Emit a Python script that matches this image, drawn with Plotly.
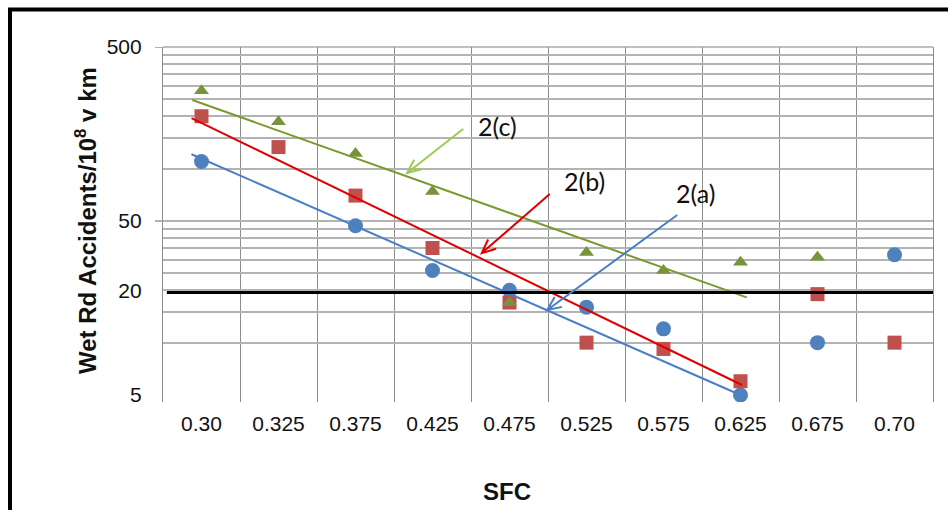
import math
import plotly.graph_objects as go

# SFC categories (x axis) and wet-road accident rates per 10^8 vehicle-km
sfc_labels = ["0.30", "0.325", "0.375", "0.425", "0.475", "0.525", "0.575", "0.625", "0.675", "0.70"]
series_a = [110, None, 47, 26, 20, 16, 12, 5.0, 10, 32]       # blue circles
series_b = [200, 133, 70, 35, 17, 10, 9.2, 6.0, 19, 10]        # red squares
series_c = [280, 186, 122, 74, 17, 33, 26, 29, 31, None]       # green triangles

# exponential trend lines (start/end category index and value)
trend_a_x = [-0.13, 6.97]
trend_a_y = [121, 5.07]
trend_b_x = [-0.13, 7.02]
trend_b_y = [195, 5.71]
trend_c_x = [-0.12, 7.08]
trend_c_y = [248, 18.2]

threshold = 19.4
y_tick_vals = [5, 20, 50, 500]
y_grid_vals = [10, 15, 20, 25, 30, 35, 40, 45, 50, 100, 150, 200, 250, 300, 350, 400, 450]

BLUE = "#4F81BD"
RED = "#C0504D"
GREEN = "#77933C"
idx = list(range(len(sfc_labels)))

fig = go.Figure()
fig.add_trace(go.Scatter(x=idx, y=series_a, mode="markers", name="2(a)",
                         marker=dict(symbol="circle", size=15, color=BLUE)))
fig.add_trace(go.Scatter(x=idx, y=series_b, mode="markers", name="2(b)",
                         marker=dict(symbol="square", size=14, color=RED)))
fig.add_trace(go.Scatter(x=idx, y=series_c, mode="markers", name="2(c)",
                         marker=dict(symbol="triangle-up", size=13, color=GREEN)))
fig.add_trace(go.Scatter(x=trend_a_x, y=trend_a_y, mode="lines",
                         line=dict(color="#4A7EC6", width=2)))
fig.add_trace(go.Scatter(x=trend_b_x, y=trend_b_y, mode="lines",
                         line=dict(color="#E00000", width=2)))
fig.add_trace(go.Scatter(x=trend_c_x, y=trend_c_y, mode="lines",
                         line=dict(color="#7A9A30", width=2)))


def arrow_shape(tip_x, tip_y, dx, dy, color, head=15, spread=0.42):
    """Open V-headed arrow; tail offset (dx, dy) in pixels from the tip, y up."""
    ang = math.atan2(dy, dx)
    h1 = (head * math.cos(ang + spread), head * math.sin(ang + spread))
    h2 = (head * math.cos(ang - spread), head * math.sin(ang - spread))
    path = (f"M {dx},{dy} L 0,0 M {h1[0]:.2f},{h1[1]:.2f} L 0,0 "
            f"L {h2[0]:.2f},{h2[1]:.2f}")
    return dict(type="path", xref="x", yref="y", xsizemode="pixel", ysizemode="pixel",
                xanchor=tip_x, yanchor=tip_y, path=path,
                line=dict(color=color, width=2))


shapes = [
    # threshold line
    dict(type="line", xref="paper", yref="y", x0=0.005, x1=1, y0=threshold, y1=threshold,
         line=dict(color="black", width=3)),
    # top border of plot area
    dict(type="line", xref="paper", yref="paper", x0=0, x1=1, y0=1, y1=1,
         line=dict(color="#AAAAAA", width=1.5), layer="below"),
    # y tick marks for the decade lines
    dict(type="line", xref="paper", yref="y", x0=-0.0104, x1=0, y0=500, y1=500,
         line=dict(color="#999999", width=1.5)),
    dict(type="line", xref="paper", yref="y", x0=-0.0104, x1=0, y0=50, y1=50,
         line=dict(color="#999999", width=1.5)),
    # outer frame
    dict(type="rect", xref="paper", yref="paper", x0=-0.1987, x1=1.05, y0=-0.35, y1=1.1056,
         line=dict(color="black", width=4)),
    arrow_shape(2.67, 94.4, 56, 44, "#9ACD4E"),
    arrow_shape(3.64, 32.7, 68, 59, "#E00000"),
    arrow_shape(4.49, 15.4, 130, 95, "#4A7EC6"),
]

label_font = dict(family="Lato, Open Sans, sans-serif", size=25, color="#111111")
title_font = dict(family="Liberation Sans, Arial, sans-serif", size=24, color="#111111")
annotations = [
    dict(x=3.84, y=math.log10(176), xref="x", yref="y", text="2(c)", showarrow=False,
         font=label_font),
    dict(x=4.97, y=math.log10(85), xref="x", yref="y", text="2(b)", showarrow=False,
         font=label_font),
    dict(x=6.42, y=math.log10(72.4), xref="x", yref="y", text="2(a)", showarrow=False,
         font=label_font),
    dict(x=-0.1, y=0.51, xref="paper", yref="paper",
         text="<b>Wet Rd Accidents/10<sup>8</sup> v km</b>",
         textangle=-90, showarrow=False, xanchor="center", yanchor="middle",
         font=title_font),
    dict(x=0.447, y=-0.2535, xref="paper", yref="paper", text="<b>SFC</b>", showarrow=False,
         xanchor="center", yanchor="middle", font=title_font),
]

fig.update_layout(
    width=948, height=510,
    margin=dict(l=163, r=15, t=47, b=108),
    paper_bgcolor="white", plot_bgcolor="white",
    showlegend=False,
    shapes=shapes,
    annotations=annotations,
    font=dict(family="Liberation Sans, Arial, sans-serif", size=21, color="#111111"),
    xaxis=dict(
        range=[-0.5, 9.5], tickmode="array", tickvals=idx, ticktext=sfc_labels,
        showgrid=False, zeroline=False, showline=False, ticks="",
        ticklabelstandoff=7,
        minor=dict(tickmode="array", tickvals=[i + 0.5 for i in idx[:-1]],
                   showgrid=True, gridcolor="#8C8C8C", gridwidth=1.2, ticks=""),
    ),
    yaxis=dict(
        type="log", range=[math.log10(4.56), math.log10(500)],
        tickmode="array", tickvals=y_tick_vals, ticktext=[str(v) for v in y_tick_vals],
        showgrid=False, zeroline=False, ticks="",
        showline=True, linecolor="#8C8C8C", linewidth=1.2, mirror=True,
        ticklabelstandoff=16,
        minor=dict(tickmode="array", tickvals=y_grid_vals, showgrid=True,
                   gridcolor="#B3B3B3", gridwidth=1.5, ticks=""),
    ),
)

fig.write_html("out.html")
